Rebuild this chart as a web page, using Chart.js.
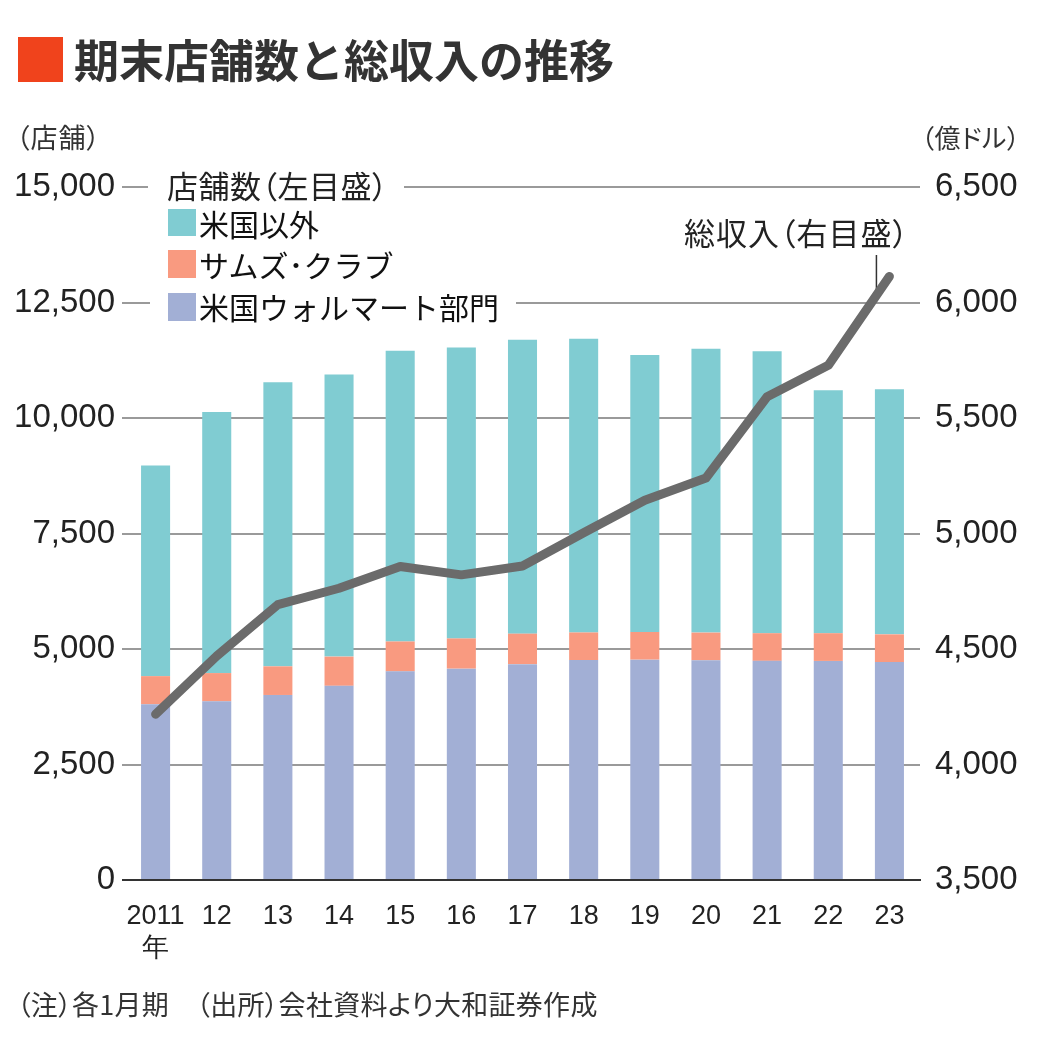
<!DOCTYPE html>
<html lang="ja">
<head>
<meta charset="utf-8">
<script src="https://cdn.jsdelivr.net/npm/chart.js@4/dist/chart.umd.min.js"></script>
<style>
  html, body { margin: 0; padding: 0; background: #fff; }
  #wrap { position: relative; width: 1040px; height: 1058px; overflow: hidden; }
  canvas { position: absolute; left: 0; top: 0; }
  .t { position: absolute; font-family: "Noto Sans CJK JP", "Noto Sans", sans-serif; white-space: nowrap; line-height: 1; }
  .p { font-feature-settings: "palt" 1; }
  .sq { position: absolute; }
  .wb { position: absolute; background: #fff; }
</style>
</head>
<body>
<div id="wrap">
  <canvas id="c" width="1040" height="1058"></canvas>

  <div class="sq" style="left:18px;top:37px;width:45px;height:45px;background:#f0431c;"></div>
  <div class="t" style="left:74px;top:36px;font-size:45px;font-weight:700;color:#333;">期末店舗数と総収入の推移</div>

  <div class="t p" style="left:16px;top:123px;font-size:27px;color:#333;letter-spacing:1px;">（店舗）</div>
  <div class="t p" style="left:921px;top:124px;font-size:26px;color:#333;letter-spacing:0.5px;">（億ドル）</div>

  <!-- legend -->
  <div class="wb" style="left:148px;top:168px;width:256px;height:36px;"></div>
  <div class="t p" style="left:167px;top:169px;font-size:31px;color:#222;letter-spacing:0.5px;">店舗数（左目盛）</div>

  <div class="wb" style="left:150px;top:286px;width:366px;height:38px;"></div>
  <div id="lg1" class="sq" style="left:168px;top:209px;width:28px;height:27px;"></div>
  <div class="t" style="left:199px;top:208px;font-size:30px;color:#111;">米国以外</div>
  <div id="lg2" class="sq" style="left:168px;top:250px;width:28px;height:28px;"></div>
  <div class="t" style="left:199px;top:249px;font-size:30px;color:#111;">サムズ･クラブ</div>
  <div id="lg3" class="sq" style="left:168px;top:293px;width:28px;height:28px;"></div>
  <div class="t" style="left:199px;top:291px;font-size:30px;color:#111;">米国ウォルマート部門</div>

  <div class="t p" style="left:684px;top:216px;font-size:31px;color:#222;letter-spacing:1px;">総収入（右目盛）</div>

  <div class="t p" style="left:17px;top:990px;font-size:27px;color:#333;letter-spacing:0.3px;">（注）各1月期　（出所）会社資料より大和証券作成</div>
</div>

<script>
// ---- data ----
const years = ['2011', '12', '13', '14', '15', '16', '17', '18', '19', '20', '21', '22', '23'];
const usWalmart = [3804, 3868, 4005, 4203, 4516, 4574, 4672, 4761, 4769, 4756, 4743, 4742, 4717];
const samsClub = [609, 611, 620, 632, 647, 655, 660, 597, 599, 599, 599, 600, 600];
const international = [4557, 5651, 6148, 6107, 6290, 6299, 6363, 6360, 5993, 6146, 6101, 5259, 5306];
const revenue = [4218, 4470, 4692, 4763, 4857, 4821, 4859, 5003, 5144, 5240, 5592, 5728, 6113];
const leftTicks = [0, 2500, 5000, 7500, 10000, 12500, 15000];
const rightTicks = [3500, 4000, 4500, 5000, 5500, 6000, 6500];

const COL_US = '#a2afd5';
const COL_SAMS = '#f99a80';
const COL_INTL = '#80ccd2';
const COL_LINE = '#6b6b6b';

document.getElementById('lg1').style.background = COL_INTL;
document.getElementById('lg2').style.background = COL_SAMS;
document.getElementById('lg3').style.background = COL_US;

const numFont = "'Liberation Sans', Arial, Helvetica, sans-serif";
const fmt = v => Number(v).toLocaleString('en-US');

const leaderPlugin = {
  id: 'leader',
  beforeDatasetsDraw(chart) {
    const x = chart.scales.x.getPixelForValue(years.length - 1) - 13;
    const yEnd = chart.scales.y1.getPixelForValue(revenue[revenue.length - 1]) + 14;
    const ctx = chart.ctx;
    ctx.save();
    ctx.strokeStyle = '#333';
    ctx.lineWidth = 1.5;
    ctx.beginPath();
    ctx.moveTo(x, 255);
    ctx.lineTo(x, yEnd);
    ctx.stroke();
    ctx.restore();
  }
};

new Chart(document.getElementById('c'), {
  data: {
    labels: years,
    datasets: [
      {
        type: 'line', label: '総収入', data: revenue, yAxisID: 'y1', order: 0,
        borderColor: COL_LINE, borderWidth: 9, pointRadius: 0, tension: 0,
        borderCapStyle: 'round', borderJoinStyle: 'round', fill: false
      },
      { type: 'bar', label: '米国ウォルマート部門', data: usWalmart, backgroundColor: COL_US, yAxisID: 'y', order: 1, stack: 's' },
      { type: 'bar', label: 'サムズ・クラブ', data: samsClub, backgroundColor: COL_SAMS, yAxisID: 'y', order: 1, stack: 's' },
      { type: 'bar', label: '米国以外', data: international, backgroundColor: COL_INTL, yAxisID: 'y', order: 1, stack: 's' }
    ]
  },
  options: {
    responsive: false,
    devicePixelRatio: 1,
    animation: false,
    layout: { padding: { top: 187, left: 0, right: 0, bottom: 0 } },
    plugins: { legend: { display: false }, tooltip: { enabled: false } },
    datasets: { bar: { categoryPercentage: 1, barPercentage: 0.475 } },
    scales: {
      x: {
        stacked: true,
        z: 1,
        grid: { display: false },
        border: { display: true, color: '#333', width: 2 },
        ticks: {
          color: '#222', font: { family: numFont, size: 27 }, padding: 12, maxRotation: 0, autoSkip: false,
          callback: (v, i) => i === 0 ? [years[i], '年'] : years[i]
        },
        afterFit: s => { s.height = 178; }
      },
      y: {
        position: 'left', stacked: true, min: 0, max: 15000,
        afterBuildTicks: s => { s.ticks = leftTicks.map(v => ({ value: v })); },
        grid: {
          color: c => (c.tick && c.tick.value === 0) ? '#333' : '#9a9a9a',
          lineWidth: 2, tickLength: 3, drawTicks: true
        },
        border: { display: false },
        ticks: { color: '#222', font: { family: numFont, size: 33 }, padding: 7, callback: v => fmt(v) },
        afterFit: s => { s.width = 125; }
      },
      y1: {
        position: 'right', min: 3500, max: 6500,
        afterBuildTicks: s => { s.ticks = rightTicks.map(v => ({ value: v })); },
        grid: { display: false, drawOnChartArea: false },
        border: { display: false },
        ticks: { color: '#222', font: { family: numFont, size: 33 }, padding: 7, callback: v => fmt(v) },
        afterFit: s => { s.width = 120; }
      }
    }
  },
  plugins: [leaderPlugin]
});
</script>
</body>
</html>
